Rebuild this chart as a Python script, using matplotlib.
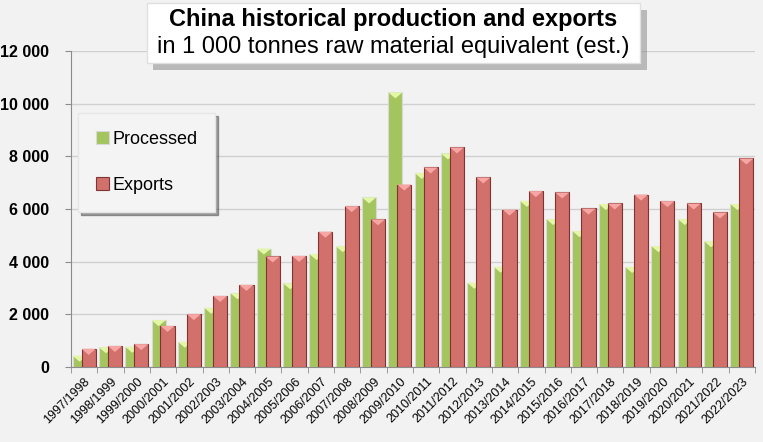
import numpy as np
import matplotlib.pyplot as plt
from matplotlib.patches import Rectangle, Polygon
import matplotlib.ticker as mticker

# seasons and values (1 000 t raw material equivalent)
seasons = ['1997/1998', '1998/1999', '1999/2000', '2000/2001', '2001/2002',
           '2002/2003', '2003/2004', '2004/2005', '2005/2006', '2006/2007',
           '2007/2008', '2008/2009', '2009/2010', '2010/2011', '2011/2012',
           '2012/2013', '2013/2014', '2014/2015', '2015/2016', '2016/2017',
           '2017/2018', '2018/2019', '2019/2020', '2020/2021', '2021/2022',
           '2022/2023']
processed = [430, 750, 770, 1780, 960, 2250, 2800, 4500, 3180, 4290,
             4590, 6440, 10430, 7370, 8110, 3200, 3810, 6310, 5620, 5160,
             6190, 3800, 4590, 5620, 4780, 6190]
exports = [690, 800, 870, 1560, 2010, 2700, 3120, 4200, 4220, 5140,
           6110, 5610, 6930, 7580, 8340, 7200, 5980, 6680, 6630, 6020,
           6210, 6550, 6300, 6210, 5870, 7920]

bg = '#f2f2f2'
green, green_top, green_edge = '#a4c45e', '#e4f7a8', '#d8d8d8'
red, red_top, red_edge = '#d2706c', '#f7a6a4', '#7d3533'
font = 'Liberation Sans'

fig = plt.figure(figsize=(7.63, 4.42), dpi=100)
fig.patch.set_facecolor(bg)
W, H = 763, 442
ax = fig.add_axes([71 / W, 75 / H, 684 / W, 316 / H])
ax.set_facecolor(bg)

x = np.arange(len(seasons))
w = 0.54
off = 0.17
tri = 230  # height of the bevel triangle in data units

ax.bar(x - off, processed, w, color=green, edgecolor=green_edge, linewidth=0.8,
       zorder=2, label='Processed')
ax.bar(x + off, exports, w, color=red, edgecolor=red_edge, linewidth=0.8,
       zorder=3, label='Exports')
for xi, v in zip(x, processed):
    ax.add_patch(Polygon([(xi - off - w / 2, v), (xi - off + w / 2, v),
                          (xi - off, v - tri)], closed=True,
                         facecolor=green_top, edgecolor='none', zorder=2.5))
for xi, v in zip(x, exports):
    ax.add_patch(Polygon([(xi + off - w / 2, v), (xi + off + w / 2, v),
                          (xi + off, v - tri)], closed=True,
                         facecolor=red_top, edgecolor='none', zorder=3.5))

ax.set_xlim(-0.5, len(seasons) - 0.5)
ax.set_ylim(0, 12000)
ax.set_yticks(np.arange(0, 12001, 2000))
ax.yaxis.set_major_formatter(mticker.FuncFormatter(
    lambda v, p: f'{int(v):,}'.replace(',', ' ')))
ax.grid(axis='y', color='#d0d0d0', linewidth=1, zorder=0)
ax.set_axisbelow(True)

for s in ['top', 'right']:
    ax.spines[s].set_visible(False)
for s in ['left', 'bottom']:
    ax.spines[s].set_color('#8c8c8c')

ax.set_xticks(x)
ax.set_xticklabels(seasons, rotation=45, ha='right', rotation_mode='anchor',
                   fontsize=9, family=['Liberation Sans Narrow', font])
ax.set_xticks(np.arange(-0.5, len(seasons)), minor=True)
ax.tick_params(axis='x', which='major', length=0, pad=6)
ax.tick_params(axis='x', which='minor', length=4, color='#8c8c8c')
ax.tick_params(axis='y', length=4, color='#8c8c8c', pad=12)
for lbl in ax.get_yticklabels():
    lbl.set_fontweight('bold')
    lbl.set_fontsize(11.5)
    lbl.set_family(font)

leg = ax.legend(loc='upper left', bbox_to_anchor=(0.01, 0.804), borderaxespad=0,
                frameon=True, fancybox=False, shadow=True,
                handlelength=0.7, handleheight=0.7, handletextpad=0.2,
                labelspacing=1.6, borderpad=1.0,
                prop={'family': font, 'size': 13})
leg.get_frame().set_facecolor('#f4f4f4')
leg.get_frame().set_edgecolor('#e6e6e6')

# title box with a shadow
fig.patches.append(Rectangle((153 / W, 1 - 70 / H), 494 / W, 60 / H,
                             transform=fig.transFigure, facecolor='#8a8a8a',
                             edgecolor='none', alpha=0.55, zorder=5))
fig.patches.append(Rectangle((147 / W, 1 - 63 / H), 493 / W, 60 / H,
                             transform=fig.transFigure, facecolor='white',
                             edgecolor='#e0e0e0', zorder=6))
fig.text(393 / W, 1 - 26 / H, 'China historical production and exports',
         ha='center', va='baseline', fontsize=17, fontweight='bold',
         family=font, zorder=7)
fig.text(393 / W, 1 - 53 / H, 'in 1 000 tonnes raw material equivalent (est.)',
         ha='center', va='baseline', fontsize=17, family=font, zorder=7)

fig.savefig('out.png', dpi=100, facecolor=bg)
